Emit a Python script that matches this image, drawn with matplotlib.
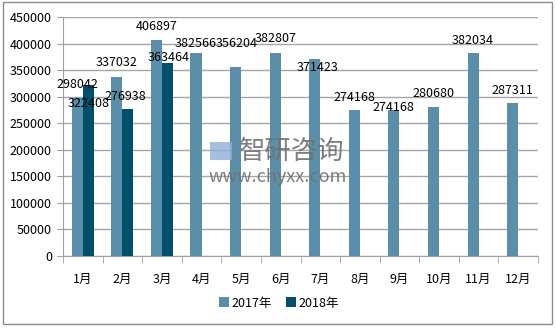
import matplotlib
matplotlib.use('Agg')
import matplotlib.pyplot as plt
from matplotlib.patches import Rectangle
import numpy as np

plt.rcParams['font.family'] = ['Noto Sans CJK SC', 'DejaVu Sans']

# 数据
months = ['1月', '2月', '3月', '4月', '5月', '6月', '7月', '8月', '9月', '10月', '11月', '12月']
vals_2017 = [298042, 337032, 406897, 382566, 356204, 382807, 371423, 274168, 274168, 280680, 382034, 287311]
vals_2018 = [322408, 276938, 363464]

# 标签偏移（像素）
off_2017 = [(0, 13), (0, 14), (0, 13), (0, 9), (1, 23), (0, 14), (3, -9), (0, 13), (0, 3), (0, 13), (0, 13), (0, 13)]
off_2018 = [(0, -19), (-3, 12), (1, 5)]

c17 = '#5B8FA9'
c18 = '#00506C'

W, H = 556, 328
fig = plt.figure(figsize=(W / 100, H / 100), dpi=100)
ax = fig.add_axes([63 / W, (H - 256) / H, (538 - 63) / W, (256 - 17) / H])

x = np.arange(len(months))
bw = 0.28
ax.bar(x - 0.14, vals_2017, width=bw, color=c17, label='2017年', zorder=3)
x18 = np.arange(len(vals_2018))
ax.bar(x18 + 0.14, vals_2018, width=bw, color=c18, label='2018年', zorder=3)

for xi, v, (dx, dy) in zip(x - 0.14, vals_2017, off_2017):
    ax.annotate(str(v), (xi, v), xytext=(dx, dy), textcoords='offset pixels',
                ha='center', va='center', fontsize=9, zorder=5)
for xi, v, (dx, dy) in zip(x18 + 0.14, vals_2018, off_2018):
    ax.annotate(str(v), (xi, v), xytext=(dx, dy), textcoords='offset pixels',
                ha='center', va='center', fontsize=9, zorder=5)

ax.set_xlim(-0.5, 11.5)
ax.set_ylim(0, 450000)
ax.set_yticks(range(0, 450001, 50000))
ax.set_xticks(x)
ax.set_xticklabels(months, fontsize=9)
ax.set_xticks(np.arange(-0.5, 12, 1), minor=True)
ax.tick_params(axis='x', which='major', length=0, pad=12)
ax.tick_params(axis='x', which='minor', length=5, color='#A0A0A0', direction='out')
ax.tick_params(axis='y', length=4, color='#A0A0A0', labelsize=9, pad=4)

ax.grid(axis='y', color='#A6A6A6', lw=1, zorder=0)
for s in ['top', 'right']:
    ax.spines[s].set_visible(False)
ax.spines['left'].set_color('#A0A0A0')
ax.spines['bottom'].set_color('#A0A0A0')

# 水印
fig.text(292 / W, 1 - 151 / H, '智研咨询', fontsize=19, color='#707070', alpha=0.9,
         ha='center', va='center', zorder=10)
fig.text(278 / W, 1 - 177 / H, 'www.chyxx.com', fontsize=13, color='#707070', alpha=0.9,
         ha='center', va='center', zorder=10)
fig.patches.append(Rectangle((210 / W, 1 - 160 / H), 22 / W, 18 / H, transform=fig.transFigure,
                             facecolor='#8FB0D8', edgecolor='none', alpha=0.8, zorder=10))

fig.legend(loc='center', bbox_to_anchor=(279 / W, 1 - 303 / H), ncol=2, frameon=False,
           fontsize=9, handlelength=0.8, handleheight=0.8, handletextpad=0.2, columnspacing=1.2)

fig.patches.append(Rectangle((3 / W, 4 / H), 549 / W, 322 / H, transform=fig.transFigure,
                             facecolor='none', edgecolor='#8C8C8C', lw=1))

fig.savefig('out.png', dpi=100)
